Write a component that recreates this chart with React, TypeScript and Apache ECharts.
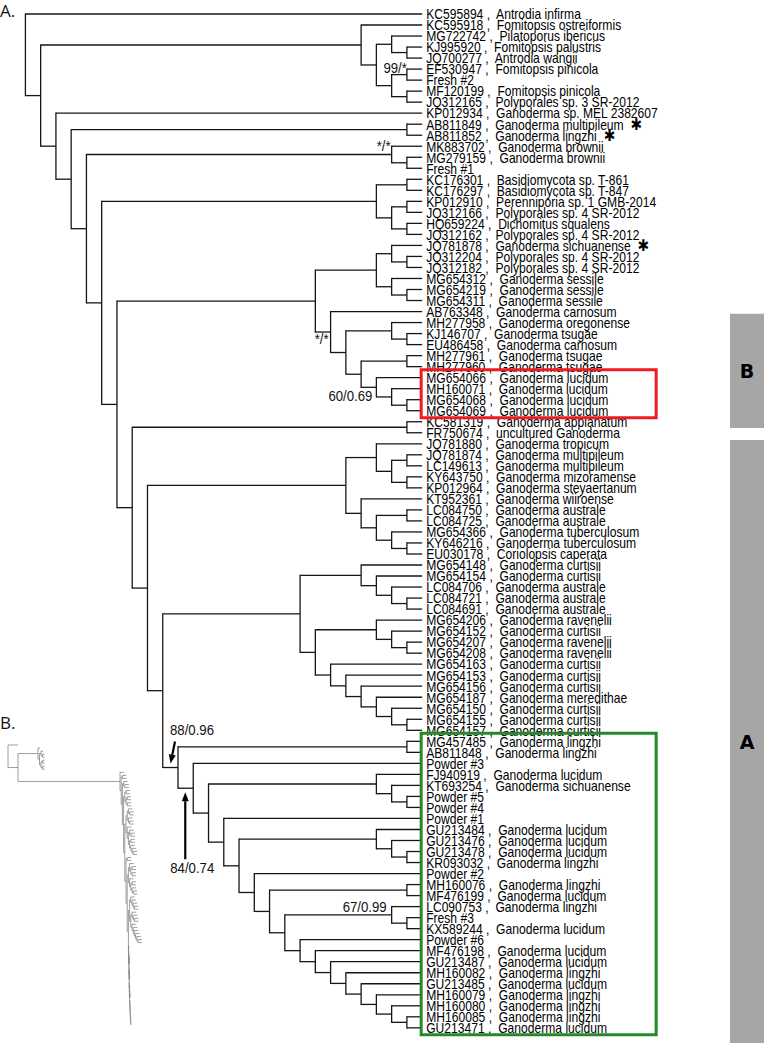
import React, { useEffect, useRef } from "react";
import * as echarts from "echarts";

type Clade = string | Clade[];

// ---------- leaves, in row order ----------
const leafAccessions: string[] = [
  "KC595894", "KC595918", "MG722742", "KJ995920", "JQ700277", "EF530947", "Fresh #2", "MF120199", "JQ312165", "KP012934",
  "AB811849", "AB811852", "MK883702", "MG279159", "Fresh #1", "KC176301", "KC176297", "KP012910", "JQ312166", "HQ659224",
  "JQ312162", "JQ781878", "JQ312204", "JQ312182", "MG654312", "MG654219", "MG654311", "AB763348", "MH277958", "KJ146707",
  "EU486458", "MH277961", "MH277960", "MG654066", "MH160071", "MG654068", "MG654069", "KC581319", "FR750674", "JQ781880",
  "JQ781874", "LC149613", "KY643750", "KP012964", "KT952361", "LC084750", "LC084725", "MG654366", "KY646216", "EU030178",
  "MG654148", "MG654154", "LC084706", "LC084721", "LC084691", "MG654206", "MG654152", "MG654207", "MG654208", "MG654163",
  "MG654153", "MG654156", "MG654187", "MG654150", "MG654155", "MG654157", "MG457485", "AB811848", "Powder #3", "FJ940919",
  "KT693254", "Powder #5", "Powder #4", "Powder #1", "GU213484", "GU213476", "GU213478", "KR093032", "Powder #2", "MH160076",
  "MF476199", "LC090753", "Fresh #3", "KX589244", "Powder #6", "MF476198", "GU213487", "MH160082", "GU213485", "MH160079",
  "MH160080", "MH160085", "GU213471",
];

const leafSpecies: string[] = [
  "Antrodia infirma", "Fomitopsis ostreiformis", "Pilatoporus ibericus", "Fomitopsis palustris", "Antrodia wangii", "Fomitopsis pinicola", "", "Fomitopsis pinicola", "Polyporales sp. 3 SR-2012", "Ganoderma sp. MEL 2382607",
  "Ganoderma multipileum", "Ganoderma lingzhi", "Ganoderma brownii", "Ganoderma brownii", "", "Basidiomycota sp. T-861", "Basidiomycota sp. T-847", "Perenniporia sp. 1 GMB-2014", "Polyporales sp. 4 SR-2012", "Dichomitus squalens",
  "Polyporales sp. 4 SR-2012", "Ganoderma sichuanense", "Polyporales sp. 4 SR-2012", "Polyporales sp. 4 SR-2012", "Ganoderma sessile", "Ganoderma sessile", "Ganoderma sessile", "Ganoderma carnosum", "Ganoderma oregonense", "Ganoderma tsugae",
  "Ganoderma carnosum", "Ganoderma tsugae", "Ganoderma tsugae", "Ganoderma lucidum", "Ganoderma lucidum", "Ganoderma lucidum", "Ganoderma lucidum", "Ganoderma applanatum", "uncultured Ganoderma", "Ganoderma tropicum",
  "Ganoderma multipileum", "Ganoderma multipileum", "Ganoderma mizoramense", "Ganoderma steyaertanum", "Ganoderma wiiroense", "Ganoderma australe", "Ganoderma australe", "Ganoderma tuberculosum", "Ganoderma tuberculosum", "Coriolopsis caperata",
  "Ganoderma curtisii", "Ganoderma curtisii", "Ganoderma australe", "Ganoderma australe", "Ganoderma australe", "Ganoderma ravenelii", "Ganoderma curtisii", "Ganoderma ravenelii", "Ganoderma ravenelii", "Ganoderma curtisii",
  "Ganoderma curtisii", "Ganoderma curtisii", "Ganoderma meredithae", "Ganoderma curtisii", "Ganoderma curtisii", "Ganoderma curtisii", "Ganoderma lingzhi", "Ganoderma lingzhi", "", "Ganoderma lucidum",
  "Ganoderma sichuanense", "", "", "", "Ganoderma lucidum", "Ganoderma lucidum", "Ganoderma lucidum", "Ganoderma lingzhi", "", "Ganoderma lingzhi",
  "Ganoderma lucidum", "Ganoderma lingzhi", "", "Ganoderma lucidum", "", "Ganoderma lucidum", "Ganoderma lucidum", "Ganoderma lingzhi", "Ganoderma lucidum", "Ganoderma lingzhi",
  "Ganoderma lingzhi", "Ganoderma lingzhi", "Ganoderma lucidum",
];

const starredLeaves = ["AB811849", "AB811852", "JQ781878"];

// ---------- topology ----------
const cladeF: Clade = ["KC595918", [["MG722742", ["KJ995920", "JQ700277"]], [["EF530947", "Fresh #2"], ["MF120199", "JQ312165"]]]];
const cladeBrownii: Clade = ["MK883702", ["MG279159", "Fresh #1"]];
const cladeBasidio: Clade = [["KC176301", "KC176297"], [["KP012910", "JQ312166"], ["HQ659224", "JQ312162"]]];
const cladeSessile: Clade = [["JQ781878", ["JQ312204", "JQ312182"]], ["MG654312", ["MG654219", "MG654311"]]];
const cladeCarnosum: Clade = ["AB763348", [["MH277958", ["KJ146707", "EU486458"]], [["MH277961", "MH277960"], ["MG654066", ["MH160071", ["MG654068", "MG654069"]]]]]];
const cladeApplanatum: Clade = ["KC581319", "FR750674"];
const cladeTropicum: Clade = [["JQ781880", [["JQ781874", "LC149613"], ["KY643750", "KP012964"]]], ["KT952361", [["LC084750", "LC084725"], ["MG654366", ["KY646216", "EU030178"]]]]];
const cladeCurtisii: Clade = [
  ["MG654148", ["MG654154", ["LC084706", ["LC084721", "LC084691"]]]],
  [["MG654206", ["MG654152", ["MG654207", "MG654208"]]], ["MG654163", ["MG654153", ["MG654156", ["MG654187", ["MG654150", ["MG654155", "MG654157"]]]]]]],
];
const n310: Clade = ["MF476198", ["GU213487", ["MH160082", ["GU213485", ["MH160079", ["MH160080", ["MH160085", "GU213471"]]]]]]];
const n294: Clade = ["Powder #6", n310];
const n279: Clade = [["LC090753", ["Fresh #3", "KX589244"]], n294];
const n265: Clade = [["MH160076", "MF476199"], n279];
const n249: Clade = ["Powder #2", n265];
const n236: Clade = [["GU213484", ["GU213476", ["GU213478", "KR093032"]]], n249];
const n221: Clade = ["Powder #1", n236];
const n205: Clade = [["FJ940919", ["KT693254", ["Powder #5", "Powder #4"]]], n221];
const n189: Clade = ["Powder #3", n205];
const cladeL: Clade = [["MG457485", "AB811848"], n189];
const cladeQ: Clade = [cladeCurtisii, cladeL];
const cladeR: Clade = [cladeTropicum, cladeQ];
const cladeT: Clade = [cladeApplanatum, cladeR];
const cladeG: Clade = [cladeSessile, cladeCarnosum];
const cladeU: Clade = [cladeG, cladeT];
const cladeV: Clade = [cladeBasidio, cladeU];
const cladeW: Clade = [cladeBrownii, cladeV];
const cladeZ: Clade = [["AB811849", "AB811852"], cladeW];
const cladeY: Clade = ["KP012934", cladeZ];
const cladeX: Clade = [cladeF, cladeY];
const tree: Clade = ["KC595894", cladeX];

// ---------- annotations ----------
const supportTexts = ["99/*", "*/*", "*/*", "60/0.69", "67/0.99", "88/0.96", "84/0.74"];
const supportNodeLeaves: [string, string][] = [
  ["EF530947", "Fresh #2"], ["MK883702", "Fresh #1"], ["AB763348", "MG654069"], ["MG654066", "MG654069"],
  ["LC090753", "KX589244"], ["MG457485", "GU213471"], ["Powder #3", "GU213471"],
];
const arrowNodeLeaves: [string, string][] = [["MG457485", "GU213471"], ["Powder #3", "GU213471"]];
const boxLeaves: [string, string][] = [["MG654066", "MG654069"], ["MG457485", "GU213471"]];
const boxColors = ["#ee1b22", "#238a26"];
const groupLetters = ["B", "A"];
const groupRowSpans: [number, number][] = [[28.2, 38.57], [39.66, 96]];

// mini tree (panel B) branch lengths
const miniZoneLeafLen: Record<string, number> = { out: 2, in: 4, L: 0.5 };
const miniZoneInternalLen: Record<string, number> = { out: 1.5, in: 1.2, L: 0.15 };

// ---------- styles (not data) ----------
const LINE = "#161616";
const LABEL_FONT = "'Liberation Sans', Arial, sans-serif";
const LABEL_SCALE = 0.865;
const supportStyle: [number, number, string][] = [
  [0, -7, "right"], [-1, -9, "right"], [-2, 7, "right"], [-4, 8, "right"], [-5, -8, "right"], [-8, -38, "left"], [-23, 79, "left"],
];
const arrowStyle: [number, number, number, number][] = [[-3, -26, -7.5, -4], [-8, 71, -8, 4]];

interface TNode {
  src: Clade;
  children: TNode[];
  leaf?: string;
  row: number;
  height: number;
  level: number;
  leaves: string[];
  mx: number;
}

function build(c: Clade, counter: { i: number }): TNode {
  if (typeof c === "string") {
    counter.i += 1;
    return { src: c, children: [], leaf: c, row: counter.i, height: 0, level: 0, leaves: [c], mx: 0 };
  }
  const ch = c.map((x) => build(x, counter));
  return {
    src: c,
    children: ch,
    row: (ch[0].row + ch[ch.length - 1].row) / 2,
    height: 1 + Math.max(...ch.map((n) => n.height)),
    level: 0,
    leaves: ch.flatMap((n) => n.leaves),
    mx: 0,
  };
}

function allNodes(n: TNode, out: TNode[] = []): TNode[] {
  out.push(n);
  n.children.forEach((c) => allNodes(c, out));
  return out;
}

function mrca(root: TNode, a: string, b: string): TNode {
  let cur = root;
  for (;;) {
    const next = cur.children.find((c) => c.leaves.includes(a) && c.leaves.includes(b));
    if (!next) return cur;
    cur = next;
  }
}

function layoutMini(n: TNode, x: number, zone: string) {
  n.mx = x;
  n.children.forEach((c) => {
    let z = zone;
    if (c.src === cladeF) z = "out";
    if (c.src === cladeY) z = "in";
    if (c.src === cladeL) z = "L";
    let len = c.leaf ? miniZoneLeafLen[z] : miniZoneInternalLen[z];
    if (c.src === "KC595894" || c.src === cladeX) len = 10;
    if (c.src === cladeF) len = 20;
    if (c.src === cladeY) len = 102;
    layoutMini(c, x + len, z);
  });
}

function buildOption() {
  const root = build(tree, { i: 0 });
  const nodes = allNodes(root);
  const maxH = root.height;
  nodes.forEach((n) => (n.level = maxH - n.height));
  layoutMini(root, 0, "out");
  const internal = nodes.filter((n) => !n.leaf);
  const leaves = nodes.filter((n) => n.leaf).sort((a, b) => a.row - b.row);

  const lineStyle = { stroke: LINE, lineWidth: 1.3 };
  const supportNodes = supportNodeLeaves.map(([a, b]) => mrca(root, a, b));
  const arrowNodes = arrowNodeLeaves.map(([a, b]) => mrca(root, a, b));
  const boxRows = boxLeaves.map(([a, b]) => [leafAccessions.indexOf(a) + 1, leafAccessions.indexOf(b) + 1]);

  return {
    animation: false,
    backgroundColor: "#ffffff",
    grid: [
      { left: 0, top: 0, right: 0, bottom: 0 },
      { left: 0, top: 0, right: 0, bottom: 0 },
    ],
    xAxis: [
      { type: "value", gridIndex: 0, min: -1.6645, max: 48.401, show: false },
      { type: "value", gridIndex: 1, min: -8, max: 756, show: false },
    ],
    yAxis: [
      { type: "value", gridIndex: 0, min: -0.2704, max: 94.376, inverse: true, show: false },
      { type: "value", gridIndex: 1, min: -244.07, max: 99.02, inverse: true, show: false },
    ],
    graphic: [
      { type: "text", left: 0, top: 2, style: { text: "A.", font: "17px 'Open Sans', sans-serif", fill: "#111" } },
      { type: "text", left: 0, top: 714, style: { text: "B.", font: "17px 'Open Sans', sans-serif", fill: "#111" } },
    ],
    series: [
      // side group bars
      {
        type: "custom", xAxisIndex: 0, yAxisIndex: 0, clip: false, silent: true, z: 1,
        data: groupRowSpans.map((s) => [0, s[0]]),
        renderItem: (params: any, api: any) => {
          const s = groupRowSpans[params.dataIndex];
          const t = api.coord([0, s[0]])[1];
          const b = api.coord([0, s[1]])[1];
          const w = api.getWidth();
          return {
            type: "group",
            children: [
              { type: "rect", shape: { x: w - 34, y: t, width: 34, height: b - t }, style: { fill: "#a6a6a6" } },
              {
                type: "text", x: w - 17, y: (t + Math.min(b, api.getHeight())) / 2,
                style: { text: groupLetters[params.dataIndex], font: "bold 19px 'DejaVu Sans', sans-serif", fill: "#000", align: "center", verticalAlign: "middle" },
              },
            ],
          };
        },
      },
      // tree branches
      {
        type: "custom", xAxisIndex: 0, yAxisIndex: 0, clip: false, silent: true, z: 3,
        data: internal.map((n) => [n.level, n.row]),
        renderItem: (params: any, api: any) => {
          const n = internal[params.dataIndex];
          const top = api.coord([n.level, n.children[0].row]);
          const bot = api.coord([n.level, n.children[n.children.length - 1].row]);
          const els: any[] = [{ type: "line", shape: { x1: top[0], y1: top[1] - 0.6, x2: bot[0], y2: bot[1] + 0.6 }, style: lineStyle }];
          n.children.forEach((c) => {
            const q = api.coord([c.level, c.row]);
            els.push({ type: "line", shape: { x1: top[0], y1: q[1], x2: q[0], y2: q[1] }, style: lineStyle });
          });
          return { type: "group", children: els };
        },
      },
      // leaf labels
      {
        type: "custom", xAxisIndex: 0, yAxisIndex: 0, clip: false, silent: true, z: 4,
        data: leaves.map((n) => [n.level, n.row]),
        renderItem: (params: any, api: any) => {
          const n = leaves[params.dataIndex];
          const p = api.coord([n.level, n.row]);
          const i = leafAccessions.indexOf(n.leaf as string);
          const sp = leafSpecies[i];
          let s = sp ? `${n.leaf} ,  ${sp}` : (n.leaf as string);
          if (starredLeaves.includes(n.leaf as string)) s += "  {s|✱}";
          return {
            type: "text", x: p[0] + 4, y: p[1] + 0.5, scaleX: LABEL_SCALE,
            style: {
              text: s, font: `14px ${LABEL_FONT}`, fill: "#000", align: "left", verticalAlign: "middle",
              rich: { s: { font: "bold 16px 'DejaVu Sans', sans-serif", fill: "#000" } },
            },
          };
        },
      },
      // boxes
      {
        type: "custom", xAxisIndex: 0, yAxisIndex: 0, clip: false, silent: true, z: 5,
        data: boxRows.map((r) => [maxH, r[0]]),
        renderItem: (params: any, api: any) => {
          const r = boxRows[params.dataIndex];
          const a = api.coord([maxH, r[0]]);
          const b = api.coord([maxH, r[1]]);
          return {
            type: "rect",
            shape: { x: a[0] - 1, y: a[1] - 8, width: 235, height: b[1] - a[1] + 15 },
            style: { fill: "none", stroke: boxColors[params.dataIndex], lineWidth: 3 },
          };
        },
      },
      // support values
      {
        type: "custom", xAxisIndex: 0, yAxisIndex: 0, clip: false, silent: true, z: 6,
        data: supportNodes.map((n) => [n.level, n.row]),
        renderItem: (params: any, api: any) => {
          const n = supportNodes[params.dataIndex];
          const p = api.coord([n.level, n.row]);
          const st = supportStyle[params.dataIndex];
          return {
            type: "text", x: p[0] + st[0], y: p[1] + st[1], scaleX: 0.88,
            style: { text: supportTexts[params.dataIndex], font: `15px ${LABEL_FONT}`, fill: "#111", align: st[2], verticalAlign: "middle" },
          };
        },
      },
      // arrows
      {
        type: "custom", xAxisIndex: 0, yAxisIndex: 0, clip: false, silent: true, z: 6,
        data: arrowNodes.map((n) => [n.level, n.row]),
        renderItem: (params: any, api: any) => {
          const n = arrowNodes[params.dataIndex];
          const p = api.coord([n.level, n.row]);
          const st = arrowStyle[params.dataIndex];
          const tx = p[0] + st[0], ty = p[1] + st[1];
          const hx = p[0] + st[2], hy = p[1] + st[3];
          const dx = hx - tx, dy = hy - ty;
          const len = Math.sqrt(dx * dx + dy * dy);
          const ux = dx / len, uy = dy / len;
          const hl = 9, hw = 3.5;
          const bx = hx - ux * hl, by = hy - uy * hl;
          return {
            type: "group",
            children: [
              { type: "line", shape: { x1: tx, y1: ty, x2: bx, y2: by }, style: { stroke: "#000", lineWidth: 2.2 } },
              {
                type: "polygon",
                shape: { points: [[hx, hy], [bx - uy * hw, by + ux * hw], [bx + uy * hw, by - ux * hw]] },
                style: { fill: "#000" },
              },
            ],
          };
        },
      },
      // mini tree (panel B)
      {
        type: "custom", xAxisIndex: 1, yAxisIndex: 1, clip: false, silent: true, z: 2,
        data: internal.map((n) => [n.mx, n.row]),
        renderItem: (params: any, api: any) => {
          const n = internal[params.dataIndex];
          const top = api.coord([n.mx, n.children[0].row]);
          const bot = api.coord([n.mx, n.children[n.children.length - 1].row]);
          const st = { stroke: "#858585", lineWidth: 0.8 };
          const els: any[] = [{ type: "line", shape: { x1: top[0], y1: top[1], x2: bot[0], y2: bot[1] }, style: st }];
          n.children.forEach((c) => {
            const q = api.coord([c.mx, c.row]);
            els.push({ type: "line", shape: { x1: top[0], y1: q[1], x2: q[0], y2: q[1] }, style: st });
          });
          return { type: "group", children: els };
        },
      },
    ],
  };
}

export default function App() {
  const ref = useRef<HTMLDivElement>(null);
  useEffect(() => {
    const el = ref.current;
    if (!el) return;
    const chart = echarts.init(el, undefined, { renderer: "svg" });
    chart.setOption(buildOption() as any);
    return () => chart.dispose();
  }, []);
  return (
    <div
      ref={ref}
      style={{ position: "absolute", left: 0, top: 0, width: 764, height: 1043, background: "#fff" }}
    />
  );
}
